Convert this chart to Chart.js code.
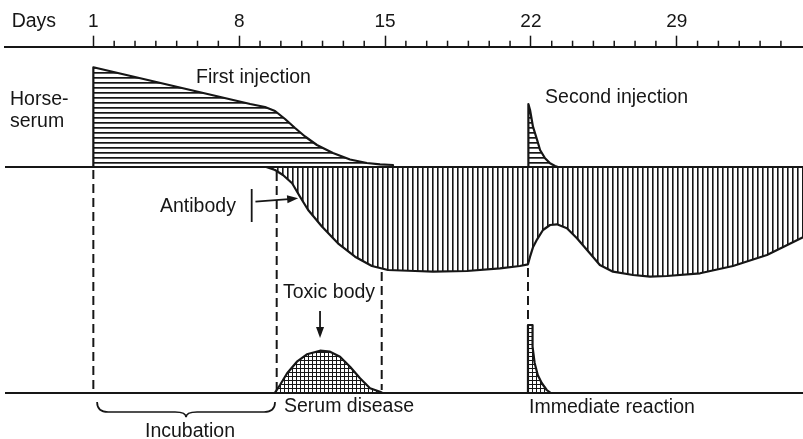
<!DOCTYPE html>
<html>
<head>
<meta charset="utf-8">
<script src="https://cdn.jsdelivr.net/npm/chart.js@4.4.1/dist/chart.umd.min.js"></script>
<style>
  html, body { margin: 0; padding: 0; background: #fff; }
</style>
</head>
<body>
<canvas id="chart" width="803" height="439"></canvas>
<script>
// day axis
const dayTicks = [1, 2, 3, 4, 5, 6, 7, 8, 9, 10, 11, 12, 13, 14, 15, 16, 17, 18, 19, 20, 21, 22, 23, 24, 25, 26, 27, 28, 29, 30, 31, 32, 33, 34];
const labelledDays = [1, 8, 15, 22, 29];

// horse serum after the first injection (above the middle baseline)
const firstInjDays  = [1, 1, 8.53, 9.24, 9.72, 10.2, 10.68, 11.16, 11.73, 12.5, 13.32, 14.13, 14.76, 15.38, 15.38];
const firstInjLevel = [0, 99.7, 63, 60, 56, 48, 39, 30.5, 22, 14, 7.5, 4, 2.7, 2, 0];

// horse serum after the second injection
const secondInjDays  = [21.88, 21.88, 21.96, 22.1, 22.3, 22.44, 22.68, 22.92, 23.16, 23.3];
const secondInjLevel = [0, 63, 57, 40.3, 27, 17, 8.7, 3.7, 1, 0];

// antibody (below the middle baseline)
const antibodyDays  = [9.3, 9.72, 10.1, 10.54, 10.92, 11.31, 11.98, 12.74, 13.56, 14.37, 15.14, 16.44, 17.3, 18.93, 20.52, 21.47, 21.86, 21.96, 22.1, 22.3, 22.58, 22.92, 23.25, 23.73, 24.21, 24.83, 25.31, 25.94, 26.9, 27.72, 28.53, 30.12, 31.7, 33.33, 35.06];
const antibodyLevel = [0, -3, -8, -16.3, -29.7, -43, -59.7, -76.3, -89.7, -99, -103, -104, -104.7, -104, -101.3, -99, -97.3, -89.7, -80.3, -72.3, -63, -58, -57.3, -61.3, -71.3, -86.3, -98, -104.7, -108, -109.7, -109, -106.3, -99, -88, -70.3];

// toxic body / serum disease (bottom baseline)
const toxicDays  = [9.72, 9.96, 10.3, 10.77, 11.25, 11.88, 12.36, 12.84, 13.32, 13.8, 14.28, 14.76, 14.86];
const toxicLevel = [0, 7.7, 19.4, 31, 38.4, 42, 41, 36, 26, 14.4, 4.4, 1, 0];

// immediate reaction
const reactionDays  = [21.86, 21.86, 22.08, 22.08, 22.18, 22.33, 22.52, 22.76, 22.93];
const reactionLevel = [0, 67.7, 67.7, 46, 29.7, 17.7, 9.7, 2.7, 0];

// dashed guides (middle panel units)
const guideDays = [1, 9.8, 14.84, 21.86];
const guideFrom = [-3, -5, -105, -101];
const guideTo   = [-223, -223, -223, -156];

// text labels: day of left edge, baseline level, axis
const labelText  = ['Days', 'Horse-', 'serum', 'First injection', 'Second injection', 'Antibody', 'Toxic body', 'Serum disease', 'Immediate reaction', 'Incubation'];
const labelDay   = [-2.92, -3.0, -3.0, 5.93, 22.68, 4.2, 10.1, 10.15, 21.91, 3.48];
const labelLevel = [140.3, 62, 40.3, 83.7, 63.7, -44.7, 94.4, -19, -20.6, -44];
const labelAxis  = ['y', 'y', 'y', 'y', 'y', 'y', 'y2', 'y2', 'y2', 'y2'];

const ink = '#161616';
const fontFamily = '"Liberation Sans", Arial, sans-serif';

function hatch(kind) {
  const c = document.createElement('canvas');
  const g = c.getContext('2d');
  if (kind === 'grid') {
    c.width = 4; c.height = 4;
    g.fillStyle = ink;
    g.fillRect(0, 0, 4, 1);
    g.fillRect(0, 0, 1, 4);
  } else if (kind === 'h') {
    c.width = 5; c.height = 5;
    g.fillStyle = ink;
    g.fillRect(0, 2, 5, 1);
    g.fillStyle = 'rgba(22,22,22,0.7)';
    g.fillRect(0, 3, 5, 1);
  } else {
    c.width = 5; c.height = 5;
    g.fillStyle = ink;
    g.fillRect(2, 0, 1, 5);
    g.fillStyle = 'rgba(22,22,22,0.6)';
    g.fillRect(3, 0, 1, 5);
  }
  return g.createPattern(c, 'repeat');
}

function area(days, levels, axis, pattern) {
  return {
    data: days.map((d, i) => ({ x: d, y: levels[i] })),
    yAxisID: axis,
    borderColor: ink,
    borderWidth: 2.2,
    borderJoinStyle: 'round',
    fill: 'origin',
    backgroundColor: pattern,
    pointRadius: 0,
    tension: 0
  };
}

const guides = guideDays.map((d, i) => ({
  data: [{ x: d, y: guideFrom[i] }, { x: d, y: guideTo[i] }],
  yAxisID: 'y',
  borderColor: ink,
  borderWidth: 2,
  borderDash: [9, 5],
  fill: false,
  pointRadius: 0
}));

function arrowHead(ctx, x1, y1, x2, y2) {
  const a = Math.atan2(y2 - y1, x2 - x1);
  ctx.beginPath();
  ctx.moveTo(x2, y2);
  ctx.lineTo(x2 - 11 * Math.cos(a) + 4 * Math.sin(a), y2 - 11 * Math.sin(a) - 4 * Math.cos(a));
  ctx.lineTo(x2 - 11 * Math.cos(a) - 4 * Math.sin(a), y2 - 11 * Math.sin(a) + 4 * Math.cos(a));
  ctx.closePath();
  ctx.fill();
}

const annotate = {
  id: 'annotate',
  afterDatasetsDraw(chart) {
    const { ctx } = chart;
    const x = chart.scales.x;
    const sc = chart.scales;
    ctx.save();
    ctx.strokeStyle = ink;
    ctx.fillStyle = ink;

    // minor day ticks
    ctx.lineWidth = 1.5;
    dayTicks.filter(d => !labelledDays.includes(d)).forEach(d => {
      const px = x.getPixelForValue(d);
      ctx.beginPath();
      ctx.moveTo(px, x.bottom);
      ctx.lineTo(px, x.bottom - 6);
      ctx.stroke();
    });

    // texts
    ctx.font = '19.5px ' + fontFamily;
    ctx.textBaseline = 'alphabetic';
    ctx.textAlign = 'left';
    labelText.forEach((t, i) => {
      ctx.fillText(t, x.getPixelForValue(labelDay[i]), sc[labelAxis[i]].getPixelForValue(labelLevel[i]));
    });

    // antibody marker and arrow
    ctx.lineWidth = 1.8;
    ctx.beginPath();
    ctx.moveTo(x.getPixelForValue(8.6), sc.y.getPixelForValue(-22));
    ctx.lineTo(x.getPixelForValue(8.6), sc.y.getPixelForValue(-55));
    ctx.stroke();
    let ax1 = x.getPixelForValue(8.78), ay1 = sc.y.getPixelForValue(-34.7);
    let ax2 = x.getPixelForValue(10.83), ay2 = sc.y.getPixelForValue(-31.3);
    ctx.beginPath();
    ctx.moveTo(ax1, ay1);
    ctx.lineTo(ax2 - 6, ay2 + 0.5);
    ctx.stroke();
    arrowHead(ctx, ax1, ay1, ax2, ay2);

    // toxic body arrow
    ax1 = x.getPixelForValue(11.88); ay1 = sc.y2.getPixelForValue(81.7);
    ay2 = sc.y2.getPixelForValue(54.7);
    ctx.beginPath();
    ctx.moveTo(ax1, ay1);
    ctx.lineTo(ax1, ay2 - 6);
    ctx.stroke();
    arrowHead(ctx, ax1, ay1, ax1, ay2);

    // incubation brace
    const bl = x.getPixelForValue(1.18), br = x.getPixelForValue(9.72), bm = x.getPixelForValue(5.45);
    const bt = sc.y2.getPixelForValue(-9.3), bb = sc.y2.getPixelForValue(-19.3), tip = sc.y2.getPixelForValue(-24.5);
    const r = 11;
    ctx.lineWidth = 1.7;
    ctx.beginPath();
    ctx.moveTo(bl, bt);
    ctx.quadraticCurveTo(bl, bb, bl + r, bb);
    ctx.lineTo(bm - r, bb);
    ctx.quadraticCurveTo(bm, bb, bm, tip);
    ctx.quadraticCurveTo(bm, bb, bm + r, bb);
    ctx.lineTo(br - r, bb);
    ctx.quadraticCurveTo(br, bb, br, bt);
    ctx.stroke();

    ctx.restore();
  }
};

new Chart(document.getElementById('chart'), {
  type: 'line',
  data: {
    datasets: [
      area(firstInjDays, firstInjLevel, 'y', hatch('h')),
      area(secondInjDays, secondInjLevel, 'y', hatch('h')),
      area(antibodyDays, antibodyLevel, 'y', hatch('v')),
      area(toxicDays, toxicLevel, 'y2', hatch('grid')),
      area(reactionDays, reactionLevel, 'y2', hatch('grid')),
      ...guides
    ]
  },
  options: {
    responsive: false,
    animation: false,
    devicePixelRatio: 1,
    layout: { padding: { left: 5, right: 0, top: 10, bottom: 0 } },
    plugins: { legend: { display: false }, tooltip: { enabled: false } },
    scales: {
      x: {
        type: 'linear',
        position: 'top',
        min: -3.24,
        max: 35.06,
        afterBuildTicks: s => { s.ticks = dayTicks.map(v => ({ value: v })); },
        afterFit: s => { s.height = 36.7; },
        ticks: {
          autoSkip: false,
          maxRotation: 0,
          padding: 3,
          color: ink,
          font: { family: fontFamily, size: 19 },
          callback: v => labelledDays.includes(v) ? String(v) : ''
        },
        grid: {
          drawOnChartArea: false,
          tickLength: 11,
          tickWidth: 1.5,
          tickColor: c => (c.tick && labelledDays.includes(c.tick.value)) ? ink : 'rgba(0,0,0,0)'
        },
        border: { display: true, color: ink, width: 2 }
      },
      y: {
        type: 'linear',
        position: 'left',
        min: -272,
        max: 120.3,
        afterBuildTicks: s => { s.ticks = [{ value: 0 }]; },
        afterFit: s => { s.width = 0; },
        ticks: { display: false },
        grid: { drawTicks: false, color: ink, lineWidth: 2 },
        border: { display: false }
      },
      y2: {
        type: 'linear',
        position: 'left',
        min: -46.3,
        max: 346,
        afterBuildTicks: s => { s.ticks = [{ value: 0 }]; },
        afterFit: s => { s.width = 0; },
        ticks: { display: false },
        grid: { drawTicks: false, color: ink, lineWidth: 2 },
        border: { display: false }
      }
    }
  },
  plugins: [annotate]
});
</script>
</body>
</html>
